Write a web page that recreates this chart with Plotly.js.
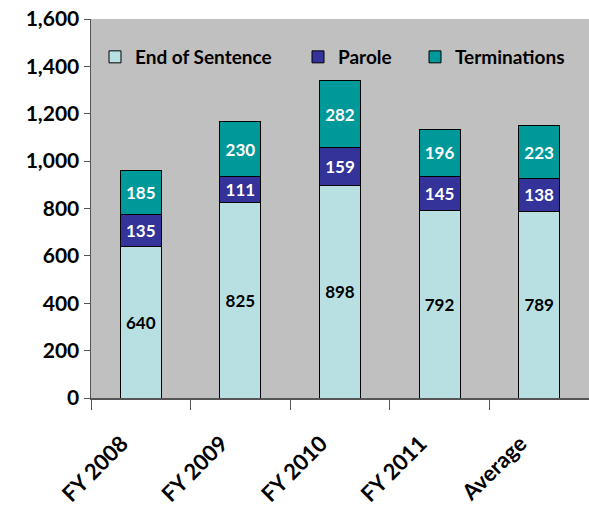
<!DOCTYPE html>
<html><head><meta charset="utf-8">
<script src="https://cdn.plot.ly/plotly-3.0.1.min.js"></script>
<style>html,body{margin:0;padding:0;background:#fff}</style>
</head><body><div id="chart" style="width:589px;height:527px"></div>
<script>
const categories = ["FY 2008", "FY 2009", "FY 2010", "FY 2011", "Average"];
const endOfSentence = [640, 825, 898, 792, 789];
const parole = [135, 111, 159, 145, 138];
const terminations = [185, 230, 282, 196, 223];
const yTicks = [0, 200, 400, 600, 800, 1000, 1200, 1400, 1600];

const FONT = "Lato, 'Open Sans', sans-serif";
function mk(name, y, color, txtColor, legend) {
  return {
    type: "bar", name: name, x: categories, y: y,
    marker: {color: color, line: {color: "#000", width: 1}},
    text: y.map(String), textposition: "inside", insidetextanchor: "middle",
    textangle: 0, constraintext: "none",
    textfont: {family: FONT, size: 17, color: txtColor, weight: 700},
    width: 0.41, legend: legend, hoverinfo: "skip"
  };
}
const data = [
  mk("End of Sentence", endOfSentence, "#B8E0E2", "#000", "legend"),
  mk("Parole", parole, "#333399", "#fff", "legend2"),
  mk("Terminations", terminations, "#009999", "#fff", "legend3")
];
const legBase = {orientation: "h", yref: "container", xref: "container", y: 1 - 38/527, yanchor: "top",
  xanchor: "left", bgcolor: "rgba(0,0,0,0)", font: {family: FONT, size: 19, color: "#000", weight: 700}};
const layout = {
  width: 589, height: 527,
  margin: {l: 91, r: 0, t: 19, b: 129, autoexpand: false},
  paper_bgcolor: "#fff", plot_bgcolor: "#C0C0C0",
  barmode: "stack", showlegend: true,
  legend: Object.assign({}, legBase, {x: 95/589}),
  legend2: Object.assign({}, legBase, {x: 298/589}),
  legend3: Object.assign({}, legBase, {x: 415/589}),
  xaxis: {
    type: "category", range: [-0.5, 4.5], tickangle: -45,
    tickfont: {family: FONT, size: 22, color: "#000", weight: 700},
    ticks: "outside", ticklen: 10, tickcolor: "#555", tickson: "boundaries",
    showline: true, linecolor: "#555", linewidth: 2, showgrid: false,
    ticklabelstandoff: 22, ticklabelshift: -19
  },
  yaxis: {
    range: [0, 1600], tickvals: yTicks, tickformat: ",d",
    tickfont: {family: FONT, size: 21, color: "#000", weight: 700},
    ticks: "outside", ticklen: 6, tickcolor: "#555",
    showline: true, linecolor: "#555", linewidth: 1.5, showgrid: false, zeroline: false
  }
};
Plotly.newPlot("chart", data, layout, {displayModeBar: false, staticPlot: true});
</script></body></html>
